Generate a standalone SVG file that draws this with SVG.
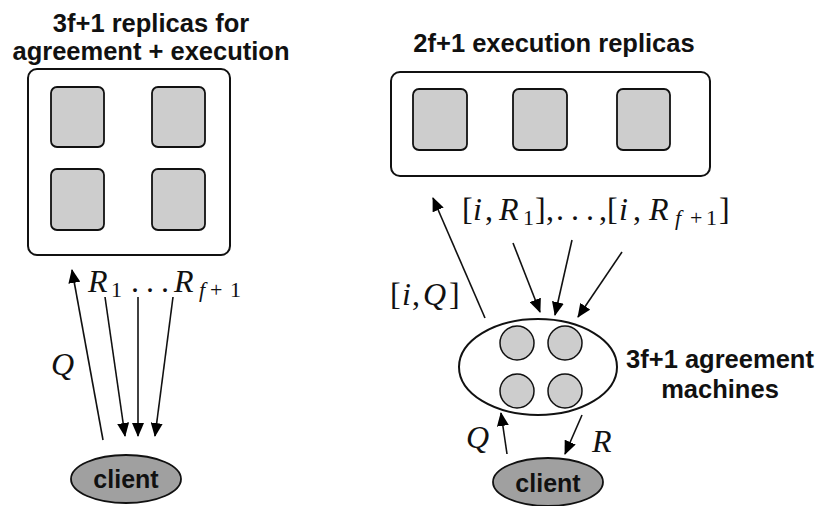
<svg xmlns="http://www.w3.org/2000/svg" width="818" height="506" viewBox="0 0 818 506">
  <defs>
    <marker id="arrow" markerUnits="userSpaceOnUse" markerWidth="14" markerHeight="12" viewBox="0 0 14 12" refX="13" refY="6" orient="auto">
      <path d="M0,0 L14,6 L0,12 Z" fill="#000"/>
    </marker>
    <style>
      .title { font-family: "Liberation Sans", Arial, sans-serif; font-weight: bold; font-size: 25.5px; fill: #111; }
      .client-label { font-family: "Liberation Sans", Arial, sans-serif; font-weight: bold; font-size: 25px; fill: #111; text-anchor: middle; }
      .math { font-family: "Liberation Serif", "Times New Roman", serif; font-size: 32px; fill: #111; }
      .it { font-style: italic; }
      .sub { font-size: 22px; }
      .frame { fill: #fff; stroke: #111; stroke-width: 2; }
      .replica { fill: #cdcdcd; stroke: #111; stroke-width: 1.8; }
      .machine { fill: #cdcdcd; stroke: #111; stroke-width: 1.5; }
      .client { fill: #a0a0a0; stroke: #111; stroke-width: 1.8; }
      .edge { stroke: #111; stroke-width: 1.6; fill: none; marker-end: url(#arrow); }
    </style>
  </defs>
  <rect width="818" height="506" fill="#fff"/>

  <!-- Left: combined agreement + execution replicas -->
  <g id="left-title">
    <text class="title" x="151" y="32" text-anchor="middle">3f+1 replicas for</text>
    <text class="title" x="151" y="60" text-anchor="middle">agreement + execution</text>
  </g>
  <g id="left-replicas">
    <rect class="frame" x="28" y="69" width="202" height="186" rx="9"/>
    <rect class="replica" x="51" y="87" width="53" height="60" rx="6"/>
    <rect class="replica" x="152" y="87" width="53" height="60" rx="6"/>
    <rect class="replica" x="51" y="169" width="53" height="61" rx="6"/>
    <rect class="replica" x="152" y="169" width="53" height="61" rx="6"/>
  </g>
  <g id="left-client">
    <ellipse class="client" cx="126" cy="479" rx="55" ry="24"/>
    <text class="client-label" x="126" y="488">client</text>
  </g>

  <!-- Right: execution replicas separated from agreement machines -->
  <g id="right-title">
    <text class="title" x="554" y="52" text-anchor="middle">2f+1 execution replicas</text>
  </g>
  <g id="execution-replicas">
    <rect class="frame" x="391" y="72" width="319" height="104" rx="9"/>
    <rect class="replica" x="413" y="89" width="54" height="61" rx="6"/>
    <rect class="replica" x="513" y="89" width="54" height="61" rx="6"/>
    <rect class="replica" x="617" y="89" width="53" height="61" rx="6"/>
  </g>
  <g id="agreement-machines">
    <ellipse class="frame" cx="538" cy="367" rx="79" ry="48"/>
    <circle class="machine" cx="517" cy="343" r="17"/>
    <circle class="machine" cx="565" cy="343" r="17"/>
    <circle class="machine" cx="517" cy="391" r="17"/>
    <circle class="machine" cx="565" cy="391" r="17"/>
    <text class="title" x="720" y="368" text-anchor="middle">3f+1 agreement</text>
    <text class="title" x="720" y="398" text-anchor="middle">machines</text>
  </g>
  <g id="right-client">
    <ellipse class="client" cx="548" cy="482" rx="55" ry="24"/>
    <text class="client-label" x="548" y="492">client</text>
  </g>

  <!-- Connectors -->
  <g id="connectors">
    <!-- left -->
    <line class="edge" x1="103" y1="440" x2="72" y2="270"/>
    <line class="edge" x1="105" y1="297" x2="125" y2="436"/>
    <line class="edge" x1="138" y1="297" x2="138" y2="436"/>
    <line class="edge" x1="173" y1="297" x2="155" y2="436"/>
    <!-- right -->
    <line class="edge" x1="485" y1="318" x2="433" y2="198"/>
    <line class="edge" x1="513" y1="243" x2="540" y2="312"/>
    <line class="edge" x1="572" y1="240" x2="555" y2="315"/>
    <line class="edge" x1="622" y1="252" x2="578" y2="317"/>
    <line class="edge" x1="507" y1="454" x2="501" y2="413"/>
    <line class="edge" x1="582" y1="415" x2="565" y2="454"/>
  </g>

  <!-- Message labels -->
  <g id="labels">
    <text class="math it" x="51" y="375">Q</text>
    <text class="math" y="292"><tspan class="it" x="88">R</tspan><tspan class="sub" x="111" y="297">1</tspan><tspan x="131 146 161" y="292">...</tspan><tspan class="it" x="174">R</tspan><tspan class="sub it" x="199" y="297">f</tspan><tspan class="sub" x="210">+</tspan><tspan class="sub" x="230">1</tspan></text>

    <text class="math" y="220"><tspan x="462">[</tspan><tspan class="it" x="473">i</tspan><tspan x="485">,</tspan><tspan class="it" x="499">R</tspan><tspan class="sub" x="523" y="225">1</tspan><tspan x="535" y="220">]</tspan><tspan x="546">,</tspan><tspan x="556 571 586">...</tspan><tspan x="599">,</tspan><tspan x="607">[</tspan><tspan class="it" x="619">i</tspan><tspan x="633">,</tspan><tspan class="it" x="649">R</tspan><tspan class="sub it" x="675" y="225">f</tspan><tspan class="sub" x="690">+</tspan><tspan class="sub" x="706">1</tspan><tspan x="719" y="220">]</tspan></text>

    <text class="math" y="305"><tspan x="390">[</tspan><tspan class="it" x="402">i</tspan><tspan x="412">,</tspan><tspan class="it" x="423">Q</tspan><tspan x="449">]</tspan></text>

    <text class="math it" x="466" y="448">Q</text>
    <text class="math it" x="592" y="452">R</text>
  </g>
</svg>
